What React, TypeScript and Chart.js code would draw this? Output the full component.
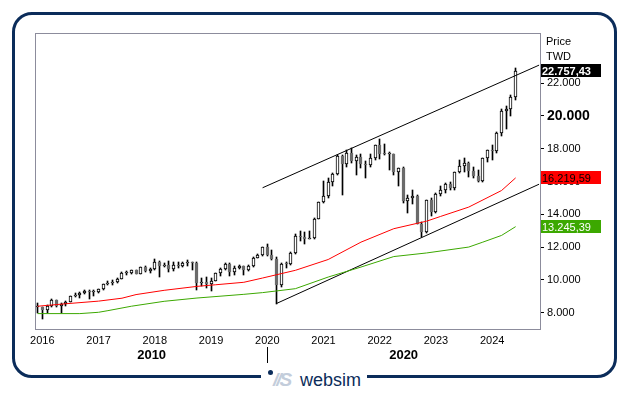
import React, { useEffect, useRef } from "react";
import { Chart, registerables } from "chart.js";
Chart.register(...registerables);

const FONT = '"Liberation Sans", Arial, Helvetica, sans-serif';

// Monthly candles (TWD)
const months = [
  "2015-12",
  "2016-01", "2016-02", "2016-03", "2016-04", "2016-05", "2016-06", "2016-07", "2016-08", "2016-09", "2016-10", "2016-11", "2016-12",
  "2017-01", "2017-02", "2017-03", "2017-04", "2017-05", "2017-06", "2017-07", "2017-08", "2017-09", "2017-10", "2017-11", "2017-12",
  "2018-01", "2018-02", "2018-03", "2018-04", "2018-05", "2018-06", "2018-07", "2018-08", "2018-09", "2018-10", "2018-11", "2018-12",
  "2019-01", "2019-02", "2019-03", "2019-04", "2019-05", "2019-06", "2019-07", "2019-08", "2019-09", "2019-10", "2019-11", "2019-12",
  "2020-01", "2020-02", "2020-03", "2020-04", "2020-05", "2020-06", "2020-07", "2020-08", "2020-09", "2020-10", "2020-11", "2020-12",
  "2021-01", "2021-02", "2021-03", "2021-04", "2021-05", "2021-06", "2021-07", "2021-08", "2021-09", "2021-10", "2021-11", "2021-12",
  "2022-01", "2022-02", "2022-03", "2022-04", "2022-05", "2022-06", "2022-07", "2022-08", "2022-09", "2022-10", "2022-11", "2022-12",
  "2023-01", "2023-02", "2023-03", "2023-04", "2023-05", "2023-06", "2023-07", "2023-08", "2023-09", "2023-10", "2023-11", "2023-12",
  "2024-01", "2024-02", "2024-03", "2024-04", "2024-05", "2024-06",
];

const open = [
  8320,
  8338, 8145, 8411, 8744, 8377, 8535, 8666, 8984, 9069, 9167, 9290, 9240,
  9254, 9448, 9750, 9812, 9872, 10041, 10395, 10427, 10586, 10384, 10794, 10560,
  10643, 11104, 10815, 10919, 10657, 10875, 10837, 11057, 11064, 11006, 9802, 9888,
  9727, 9932, 10389, 10641, 10967, 10498, 10730, 10824, 10618, 10829, 11358, 11489,
  11997, 11495, 11292, 9708, 10992, 10943, 11621, 12665, 12592, 12516, 12546, 13722,
  14732, 15138, 15953, 16431, 17566, 17068, 17755, 17247, 17490, 17066, 16987, 17428,
  18218, 17674, 17652, 17693, 16592, 16807, 14826, 15000, 15095, 13425, 12949, 14880,
  14138, 15265, 15504, 15868, 15579, 16579, 16916, 17145, 16634, 16353, 16001, 17433,
  17931, 17890, 18966, 20294, 20396, 21174,
];
const high = [
  8610,
  8341, 8487, 8810, 8800, 8560, 8700, 9020, 9170, 9260, 9360, 9350, 9400,
  9470, 9760, 9900, 9970, 10100, 10500, 10550, 10600, 10600, 10800, 10858, 10700,
  11270, 11170, 11010, 11130, 11100, 11110, 11090, 11240, 11070, 11060, 10120, 10190,
  10110, 10400, 10700, 11000, 11040, 10870, 10920, 10850, 10900, 11400, 11600, 12000,
  12200, 11800, 11400, 11050, 11100, 11700, 12800, 12950, 12900, 13000, 13800, 14760,
  16030, 16200, 16500, 17600, 17600, 17900, 18030, 17600, 17700, 17250, 17700, 18250,
  18620, 18300, 17800, 17700, 16800, 16900, 15200, 15500, 15200, 13500, 14900, 15000,
  15300, 15700, 15900, 16000, 16600, 17300, 17450, 17200, 16900, 16700, 17450, 17950,
  18200, 18990, 20400, 20600, 21300, 22900,
];
const low = [
  8000,
  7610, 7976, 8350, 8330, 8000, 8380, 8640, 8980, 8880, 9140, 8850, 9010,
  9200, 9400, 9660, 9680, 9830, 10030, 10290, 10330, 10330, 10380, 10500, 10400,
  10630, 10190, 10770, 10460, 10530, 10740, 10760, 10870, 10600, 9400, 9600, 9480,
  9320, 9900, 10250, 10600, 10250, 10290, 10640, 10300, 10530, 10800, 11350, 11450,
  11450, 11200, 8523, 9550, 10700, 10900, 11600, 12400, 12200, 12500, 12500, 13700,
  14700, 15000, 15700, 16400, 15160, 16900, 17100, 16400, 16800, 16200, 16900, 17300,
  17400, 17600, 16700, 16400, 15700, 14700, 14100, 14600, 13400, 12630, 12880, 13900,
  14100, 15100, 15300, 15500, 15500, 16500, 16600, 16300, 16200, 16000, 16000, 17200,
  17300, 17750, 18800, 19200, 20000, 21000,
];
const close = [
  8338,
  8145, 8411, 8744, 8377, 8535, 8666, 8984, 9069, 9167, 9290, 9240, 9254,
  9448, 9750, 9812, 9872, 10041, 10395, 10427, 10586, 10384, 10794, 10560, 10643,
  11104, 10815, 10919, 10657, 10875, 10837, 11057, 11064, 11006, 9802, 9888, 9727,
  9932, 10389, 10641, 10967, 10498, 10730, 10824, 10618, 10829, 11358, 11489, 11997,
  11495, 11292, 9708, 10992, 10943, 11621, 12665, 12592, 12516, 12546, 13722, 14732,
  15138, 15953, 16431, 17566, 17068, 17755, 17247, 17490, 17066, 16987, 17428, 18218,
  17674, 17652, 17693, 16592, 16807, 14826, 15000, 15095, 13425, 12949, 14880, 14138,
  15265, 15504, 15868, 15579, 16579, 16916, 17145, 16634, 16353, 16001, 17433, 17931,
  17890, 18966, 20294, 20396, 21174, 22757.43,
];

// Moving averages (read at sampled months)
const redMaMonths = ["2015-12", "2016-06", "2017-01", "2017-06", "2017-09", "2018-03", "2018-10", "2019-02", "2019-08", "2019-12", "2020-07", "2021-02", "2021-09", "2022-04", "2022-11", "2023-02", "2023-08", "2024-03", "2024-06"];
const redMaValues = [8390, 8540, 8700, 8880, 9100, 9360, 9600, 9700, 9850, 10110, 10580, 11240, 12300, 13120, 13580, 13870, 14440, 15450, 16219.59];
const greenMaMonths = ["2015-12", "2016-09", "2017-01", "2017-03", "2017-08", "2018-03", "2018-10", "2019-08", "2019-12", "2020-07", "2021-02", "2021-09", "2022-04", "2022-11", "2023-08", "2023-11", "2024-03", "2024-06"];
const greenMaValues = [7940, 7940, 8020, 8120, 8390, 8690, 8890, 9115, 9220, 9460, 10170, 10780, 11420, 11640, 12000, 12300, 12710, 13245.39];

// Trend channel
const upperChannelMonths = ["2019-12", "2024-11"];
const upperChannelValues = [15617, 23100];
const lowerChannelMonths = ["2020-03", "2024-11"];
const lowerChannelValues = [8560, 15835];

const priceTicks = [8000, 10000, 12000, 14000, 16000, 18000, 20000, 22000];
const yearLabels = ["2016", "2017", "2018", "2019", "2020", "2021", "2022", "2023", "2024"];
const decadeLabels = ["2010", "2020"];
const decadeStart = "2020-01";
const axisTitle = ["Price", "TWD"];

const monthIndex = (s: string) => {
  const [y, m] = s.split("-").map(Number);
  return (y - 2015) * 12 + m - 12;
};
const fmtThousands = (n: number) => Math.round(n).toString().replace(/\B(?=(\d{3})+(?!\d))/g, ".");
const fmtPrice = (n: number) => {
  const [i, d] = n.toFixed(2).split(".");
  return i.replace(/\B(?=(\d{3})+(?!\d))/g, ".") + "," + d;
};

const X_MIN = -0.35;
const X_MAX = 107.2;

export default function App() {
  const ref = useRef<HTMLCanvasElement | null>(null);

  useEffect(() => {
    if (!ref.current) return;
    const up = close.map((c, i) => c >= open[i]);
    const lineData = (ms: string[], vs: number[]) => ms.map((m, k) => ({ x: monthIndex(m), y: vs[k] }));

    const priceLabels = [
      { value: close[close.length - 1], bg: "#000000", fg: "#ffffff", bold: true },
      { value: redMaValues[redMaValues.length - 1], bg: "#ff0000", fg: "#000000", bold: false },
      { value: greenMaValues[greenMaValues.length - 1], bg: "#3ca800", fg: "#ffffff", bold: false },
    ];

    const snapPlugin = {
      id: "snapBars",
      beforeDatasetsDraw(chart: any) {
        chart.getSortedVisibleDatasetMetas().forEach((meta: any) => {
          if (meta.type !== "bar") return;
          meta.data.forEach((el: any) => {
            el.x = Math.floor(el.x) + 0.5;
            el.y = Math.round(el.y);
            el.base = Math.round(el.base);
          });
        });
      },
    };

    const framePlugin = {
      id: "frameAndLabels",
      afterDatasetsDraw(chart: any) {
        const { ctx, chartArea } = chart;
        ctx.save();
        ctx.strokeStyle = "#8c8c9c";
        ctx.lineWidth = 1;
        ctx.strokeRect(Math.round(chartArea.left) - 0.5, Math.round(chartArea.top) - 0.5, Math.round(chartArea.right - chartArea.left) + 1, Math.round(chartArea.bottom - chartArea.top) + 1);
        ctx.restore();
      },
      afterDraw(chart: any) {
        const { ctx, chartArea, scales } = chart;
        const ys = scales.y;
        ctx.save();
        ctx.fillStyle = "#000";
        ctx.font = `11px ${FONT}`;
        ctx.textBaseline = "middle";
        ctx.textAlign = "left";
        ctx.fillText(axisTitle[0], chartArea.right + 6, chartArea.top + 8);
        ctx.fillText(axisTitle[1], chartArea.right + 6, chartArea.top + 23);
        priceLabels.forEach((p) => {
          const y = ys.getPixelForValue(p.value);
          ctx.fillStyle = p.bg;
          ctx.fillRect(Math.round(chartArea.right) + 1, Math.round(y - 6.5), 60, 13);
          ctx.fillStyle = p.fg;
          ctx.font = `${p.bold ? "bold " : ""}11px ${FONT}`;
          ctx.fillText(fmtPrice(p.value), Math.round(chartArea.right) + 2, Math.round(y) + 0.5);
        });
        const x2 = scales.x2;
        const bx = Math.round(x2.getPixelForValue(monthIndex(decadeStart))) + 0.5;
        ctx.strokeStyle = "#000";
        ctx.lineWidth = 1;
        ctx.beginPath();
        ctx.moveTo(bx, x2.top + 1);
        ctx.lineTo(bx, x2.top + 17);
        ctx.stroke();
        ctx.restore();
      },
    };

    const chart = new Chart(ref.current, {
      type: "bar",
      data: {
        datasets: [
          {
            type: "line",
            label: "MA1",
            data: lineData(redMaMonths, redMaValues),
            borderColor: "#ff0000",
            borderWidth: 1,
            pointRadius: 0,
            tension: 0,
            order: 0,
            clip: 0,
          },
          {
            type: "line",
            label: "MA2",
            data: lineData(greenMaMonths, greenMaValues),
            borderColor: "#3ca800",
            borderWidth: 1,
            pointRadius: 0,
            tension: 0,
            order: 0,
            clip: 0,
          },
          {
            type: "line",
            label: "Upper",
            data: lineData(upperChannelMonths, upperChannelValues),
            borderColor: "#000000",
            borderWidth: 1,
            pointRadius: 0,
            order: 0,
            clip: 0,
          },
          {
            type: "line",
            label: "Lower",
            data: lineData(lowerChannelMonths, lowerChannelValues),
            borderColor: "#000000",
            borderWidth: 1,
            pointRadius: 0,
            order: 0,
            clip: 0,
          },
          {
            type: "bar",
            label: "Body",
            data: months.map((m, i) => ({ x: monthIndex(m), y: [open[i], close[i]] })),
            backgroundColor: up.map((u) => (u ? "#ffffff" : "#6b6b6b")),
            borderColor: up.map((u) => (u ? "#000000" : "#6b6b6b")),
            borderWidth: 1,
            borderSkipped: false,
            barThickness: 3,
            minBarLength: 1,
            grouped: false,
            order: 1,
            clip: 0,
          },
          {
            type: "bar",
            label: "Wick",
            data: months.map((m, i) => ({ x: monthIndex(m), y: [low[i], high[i]] })),
            backgroundColor: "#000000",
            borderWidth: 0,
            barThickness: 1,
            grouped: false,
            order: 2,
            clip: 0,
          },
        ] as any,
      },
      options: {
        animation: false,
        responsive: false,
        events: [],
        layout: { padding: { left: 16, top: 14, right: 0, bottom: 0 } },
        plugins: { legend: { display: false }, tooltip: { enabled: false } },
        scales: {
          x: {
            type: "linear",
            position: "bottom",
            min: X_MIN,
            max: X_MAX,
            offset: false,
            weight: 0,
            grid: { display: false, drawTicks: false, offset: false },
            border: { display: false },
            afterBuildTicks: (s: any) => {
              s.ticks = yearLabels.map((y) => ({ value: monthIndex(y + "-01") }));
            },
            afterFit: (s: any) => {
              s.height = 17;
            },
            ticks: {
              autoSkip: false,
              maxRotation: 0,
              padding: 5,
              color: "#000",
              font: { family: FONT, size: 11 },
              callback: (_v: any, i: number) => yearLabels[i],
            },
          },
          x2: {
            type: "linear",
            position: "bottom",
            min: X_MIN,
            max: X_MAX,
            offset: false,
            weight: 1,
            grid: { display: false, drawTicks: false },
            border: { display: false },
            afterBuildTicks: (s: any) => {
              const b = monthIndex(decadeStart);
              s.ticks = [{ value: (X_MIN + b) / 2 }, { value: (b + X_MAX) / 2 }];
            },
            afterFit: (s: any) => {
              s.height = 22;
            },
            ticks: {
              autoSkip: false,
              maxRotation: 0,
              padding: 2,
              color: "#000",
              font: { family: FONT, size: 13, weight: "bold" },
              callback: (_v: any, i: number) => decadeLabels[i],
            },
          },
          y: {
            type: "linear",
            position: "right",
            min: 7000,
            max: 25000,
            grid: { drawOnChartArea: false, drawTicks: true, tickLength: 4, tickColor: "#000", tickWidth: 1 },
            border: { display: false },
            afterBuildTicks: (s: any) => {
              s.ticks = priceTicks.map((v) => ({ value: v }));
            },
            afterFit: (s: any) => {
              s.width = 70;
            },
            ticks: {
              padding: 3,
              color: "#000",
              font: (c: any) =>
                c.tick && c.tick.value === 20000
                  ? { family: FONT, size: 14, weight: "bold" }
                  : { family: FONT, size: 11 },
              callback: (v: any) => fmtThousands(Number(v)),
            },
          },
        },
      } as any,
      plugins: [snapPlugin, framePlugin],
    });
    return () => chart.destroy();
  }, []);

  return (
    <div style={{ position: "fixed", left: 0, top: 0, width: 629, height: 395, background: "#fff", overflow: "hidden" }}>
      <div
        style={{
          position: "absolute",
          left: 12,
          top: 12,
          width: 605,
          height: 366,
          border: "3px solid #0b2c5a",
          borderRadius: 20,
          boxSizing: "border-box",
        }}
      />
      <canvas ref={ref} width={590} height={348} style={{ position: "absolute", left: 20, top: 20, width: 590, height: 348 }} />
      <div
        style={{
          position: "absolute",
          left: 261,
          top: 366,
          width: 106,
          height: 26,
          background: "#fff",
          fontFamily: FONT,
          whiteSpace: "nowrap",
        }}
      >
        <span style={{ position: "absolute", left: 7, top: 4, width: 5, height: 5, borderRadius: 3, background: "#0b2c5a" }} />
        <span style={{ position: "absolute", left: 12, top: 3, fontSize: 19, fontWeight: "bold", fontStyle: "italic", color: "#c3cddb", letterSpacing: -2 }}>//S</span>
        <span style={{ position: "absolute", left: 39, top: 4, fontSize: 18, color: "#0b2c5a" }}>websim</span>
      </div>
    </div>
  );
}
